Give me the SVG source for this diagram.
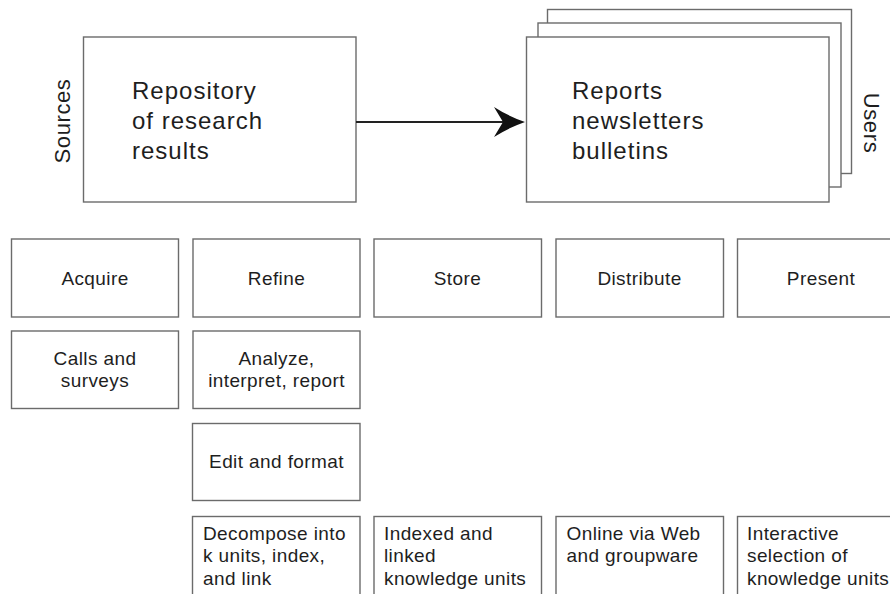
<svg xmlns="http://www.w3.org/2000/svg" width="890" height="594" viewBox="0 0 890 594">
  <style>
    .box { fill: #ffffff; stroke: #6b6b6b; stroke-width: 1.4; }
    .big { font-family: "Liberation Sans", Arial, sans-serif; font-size: 24px; letter-spacing: 1px; fill: #1e1e1e; }
    .side { font-family: "Liberation Sans", Arial, sans-serif; font-size: 22px; letter-spacing: 0.6px; fill: #1e1e1e; }
    .lbl { font-family: "Liberation Sans", Arial, sans-serif; font-size: 19px; letter-spacing: 0.4px; fill: #1e1e1e; }
    .mid { text-anchor: middle; }
    .conn { stroke: #222; stroke-width: 2; fill: none; }
  </style>
  <rect width="890" height="594" fill="#ffffff"/>

  <!-- top: repository -> publications -->
  <g id="sources-label">
    <text class="side mid" transform="translate(70,121) rotate(-90)">Sources</text>
  </g>
  <g id="repository">
    <rect class="box" x="83.5" y="37" width="272.5" height="165"/>
    <text class="big" x="132" y="99">Repository</text>
    <text class="big" x="132" y="128.5">of research</text>
    <text class="big" x="132" y="158.5">results</text>
  </g>
  <g id="publications">
    <rect class="box" x="547.5" y="9.5" width="304" height="164"/>
    <rect class="box" x="538" y="23" width="303" height="164"/>
    <rect class="box" x="526.5" y="37" width="302.5" height="165"/>
    <text class="big" x="572" y="98.5">Reports</text>
    <text class="big" x="572" y="128.5">newsletters</text>
    <text class="big" x="572" y="158.5">bulletins</text>
  </g>
  <g id="users-label">
    <text class="side mid" transform="translate(864,123) rotate(90)">Users</text>
  </g>

  <g id="connectors">
    <line class="conn" x1="356" y1="122" x2="506" y2="122"/>
    <!-- barbed arrowhead with slightly concave flanks -->
    <path d="M525,122 Q508,116 494,107 L503,122 L494,137 Q508,128 525,122 Z" fill="#111"/>
  </g>

  <!-- row 1: process stages -->
  <g id="acquire">
    <rect class="box" x="11.5" y="239" width="167" height="78"/>
    <text class="lbl mid" x="95" y="285">Acquire</text>
  </g>
  <g id="refine">
    <rect class="box" x="193" y="239" width="167" height="78"/>
    <text class="lbl mid" x="276.5" y="285">Refine</text>
  </g>
  <g id="store">
    <rect class="box" x="374" y="239" width="167.5" height="78"/>
    <text class="lbl mid" x="457.5" y="285">Store</text>
  </g>
  <g id="distribute">
    <rect class="box" x="556" y="239" width="167.5" height="78"/>
    <text class="lbl mid" x="639.5" y="285">Distribute</text>
  </g>
  <g id="present">
    <rect class="box" x="737.5" y="239" width="170" height="78"/>
    <text class="lbl mid" x="821" y="285">Present</text>
  </g>

  <!-- row 2 -->
  <g id="calls">
    <rect class="box" x="11.5" y="331" width="167" height="77.5"/>
    <text class="lbl mid" x="95" y="365">Calls and</text>
    <text class="lbl mid" x="95" y="387">surveys</text>
  </g>
  <g id="analyze">
    <rect class="box" x="193" y="331" width="167" height="77.5"/>
    <text class="lbl mid" x="276.5" y="365">Analyze,</text>
    <text class="lbl mid" x="276.5" y="387">interpret, report</text>
  </g>

  <!-- row 3 -->
  <g id="edit">
    <rect class="box" x="192.5" y="423.5" width="167.5" height="77"/>
    <text class="lbl mid" x="276.5" y="468">Edit and format</text>
  </g>

  <!-- row 4: outcomes (continue below the frame) -->
  <g id="decompose">
    <rect class="box" x="192.5" y="516.5" width="167.5" height="100"/>
    <text class="lbl" x="203" y="540">Decompose into</text>
    <text class="lbl" x="203" y="562">k units, index,</text>
    <text class="lbl" x="203" y="585">and link</text>
  </g>
  <g id="indexed">
    <rect class="box" x="374" y="516.5" width="167.5" height="100"/>
    <text class="lbl" x="384" y="540">Indexed and</text>
    <text class="lbl" x="384" y="562">linked</text>
    <text class="lbl" x="384" y="585">knowledge units</text>
  </g>
  <g id="online">
    <rect class="box" x="556" y="516.5" width="167.5" height="100"/>
    <text class="lbl" x="566.5" y="540">Online via Web</text>
    <text class="lbl" x="566.5" y="562">and groupware</text>
  </g>
  <g id="interactive">
    <rect class="box" x="737.5" y="516.5" width="170" height="100"/>
    <text class="lbl" x="747" y="540">Interactive</text>
    <text class="lbl" x="747" y="562">selection of</text>
    <text class="lbl" x="747" y="585">knowledge units</text>
  </g>
</svg>
